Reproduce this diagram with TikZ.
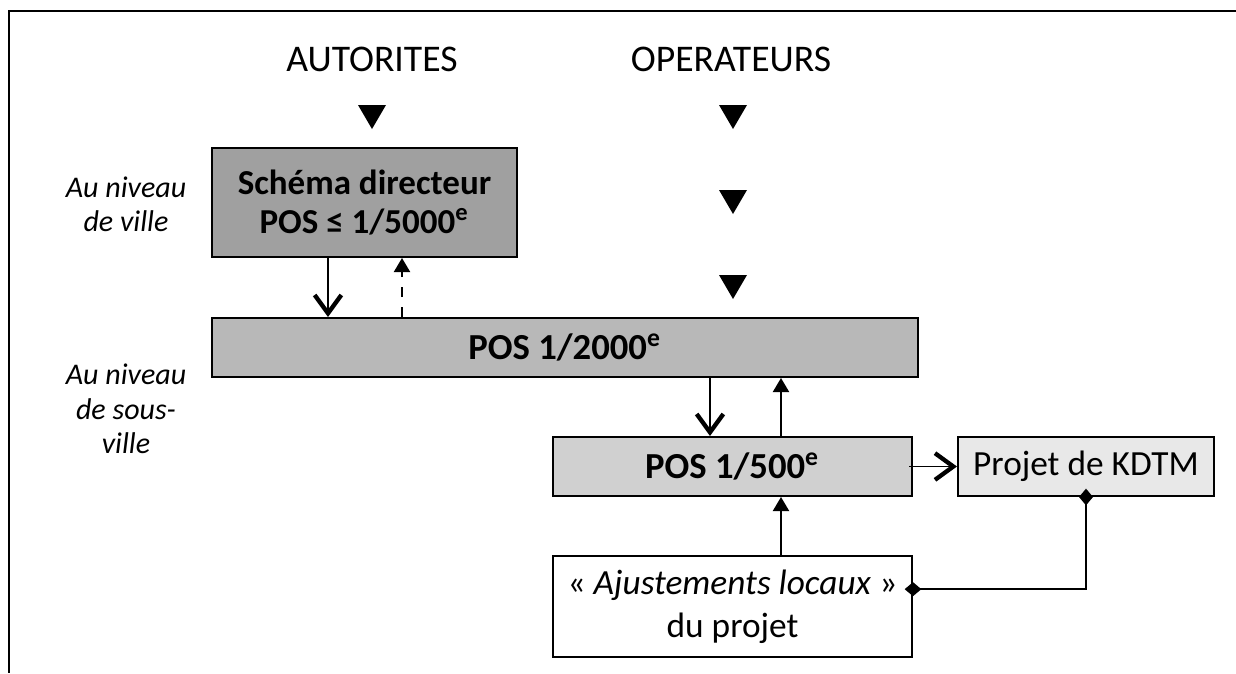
\documentclass[tikz,border=0pt]{standalone}
\usepackage{fontspec}
\setmainfont{Carlito}
\usetikzlibrary{arrows.meta}
\definecolor{grisfonce}{HTML}{A0A0A0}
\definecolor{grismoyen}{HTML}{B8B8B8}
\definecolor{grisclair}{HTML}{D0D0D0}
\definecolor{grispale}{HTML}{E8E8E8}
\tikzset{
  boite/.style={draw, line width=0.6pt, inner sep=0pt, align=center},
  descente/.style={line width=0.5pt, -{Straight Barb[length=5.5pt,width=8pt,line width=1.3pt]}},
  remontee/.style={line width=0.6pt, -{Triangle[length=4.2pt,width=4.8pt]}},
  lien/.style={line width=0.6pt, {Diamond[length=5pt,width=4.2pt]}-{Diamond[length=5pt,width=4.2pt]}, shorten <=-2.5pt, shorten >=-2.5pt},
  niveau/.style={font=\fontsize{9}{10.3}\selectfont\itshape, align=center}
}
\begin{document}
\begin{tikzpicture}[x=0.3pt,y=-0.3pt]
    \useasboundingbox (0,0) rectangle (1236,673);
    \draw [line width=0.7pt] (1236,11) -- (9,11) -- (9,673);
    % acteurs
    \node [anchor=base, font=\fontsize{11.3}{14}\selectfont] (autorites) at (372,71) {AUTORITES};
    \node [anchor=base, font=\fontsize{11.3}{14}\selectfont] (operateurs) at (731,71) {OPERATEURS};
    \fill (358,105) -- (386,105) -- (372,129) -- cycle;
    \fill (719,105) -- (747,105) -- (733,129) -- cycle;
    \fill (719,190) -- (747,190) -- (733,214) -- cycle;
    \fill (719,275) -- (747,275) -- (733,299) -- cycle;
    % niveaux
    \node [niveau] (ville) at (126,204) {Au niveau\\de ville};
    \node [niveau] (sousville) at (126,409) {Au niveau\\de sous-\\ville};
    % plans
    \node [boite, fill=grisfonce, font=\fontsize{10.5}{11.7}\selectfont\bfseries,
      minimum width=91.5pt, minimum height=32.7pt] (schema) at (364.5,202.5)
      {Schéma directeur\\POS ≤ 1/5000\textsuperscript{e}};
    \node [boite, fill=grismoyen, font=\fontsize{11}{13}\selectfont\bfseries,
      minimum width=211.8pt, minimum height=17.7pt] (pos2000) at (565,347.5)
      {POS 1/2000\textsuperscript{e}};
    \node [boite, fill=grisclair, font=\fontsize{11}{13}\selectfont\bfseries,
      minimum width=107.7pt, minimum height=17.7pt] (pos500) at (732.5,466.5)
      {POS 1/500\textsuperscript{e}};
    \node [boite, fill=grispale, font=\fontsize{10.6}{13}\selectfont,
      minimum width=76.8pt, minimum height=17.7pt] (kdtm) at (1086,466.5)
      {Projet de KDTM};
    \node [boite, fill=white, font=\fontsize{10.6}{12.9}\selectfont,
      minimum width=107.7pt, minimum height=30.3pt] (ajust) at (732.5,606.5)
      {« \textit{Ajustements locaux} »\\du projet};
    % liens
    \draw [descente] (schema.south -| 328,0) -- (pos2000.north -| 328,0);
    \draw [remontee, dashed] (pos2000.north -| 402,0) -- (schema.south -| 402,0);
    \draw [descente] (pos2000.south -| 710,0) -- (pos500.north -| 710,0);
    \draw [remontee] (pos500.north -| 781,0) -- (pos2000.south -| 781,0);
    \draw [remontee] (ajust.north -| 781,0) -- (pos500.south -| 781,0);
    \draw [descente] ([xshift=-1.2pt]pos500.east) -- (kdtm.west);
    \draw [lien] (kdtm.south) |- ([yshift=5.2pt]ajust.east);
\end{tikzpicture}
\end{document}
